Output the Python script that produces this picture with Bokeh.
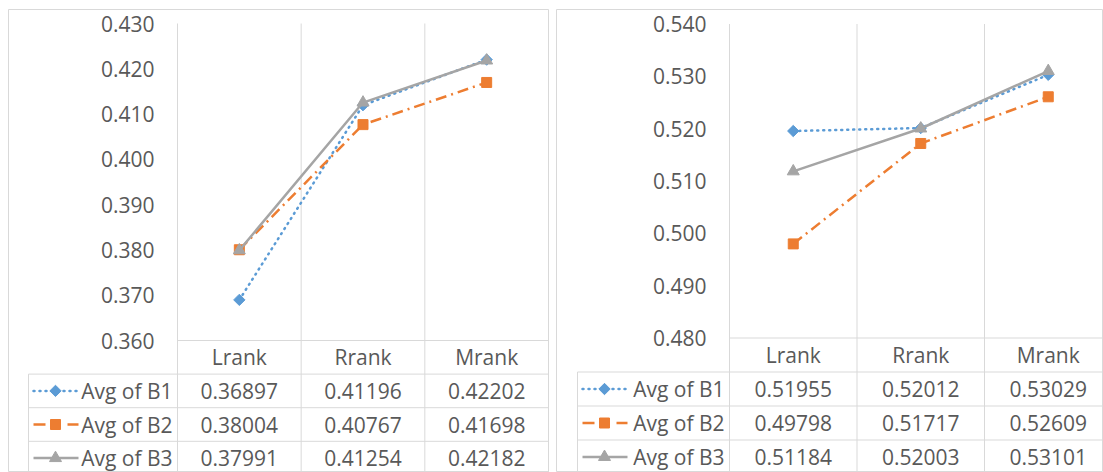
import math
from bokeh.plotting import figure
from bokeh.layouts import row
from bokeh.models import Range1d
from bokeh.embed import file_html
from bokeh.resources import INLINE
from bokeh.core.properties import value

# ---------------- data ----------------
categories = ["Lrank", "Rrank", "Mrank"]
series_names = ["Avg of B1", "Avg of B2", "Avg of B3"]

left_b1 = [0.36897, 0.41196, 0.42202]
left_b2 = [0.38004, 0.40767, 0.41698]
left_b3 = [0.37991, 0.41254, 0.42182]
left_ticks = [0.360, 0.370, 0.380, 0.390, 0.400, 0.410, 0.420, 0.430]

right_b1 = [0.51955, 0.52012, 0.53029]
right_b2 = [0.49798, 0.51717, 0.52609]
right_b3 = [0.51184, 0.52003, 0.53101]
right_ticks = [0.480, 0.490, 0.500, 0.510, 0.520, 0.530, 0.540]

# ---------------- styles ----------------
FONT = value("Open Sans")
FSIZE = value("21px")
TXT = "#595959"
GRID = "#D9D9D9"
STYLES = [
    dict(color="#5B9BD5", dash="1 5", cap="round", marker="square", size=8, angle=math.pi / 4,
         leg_dash="1 5"),
    dict(color="#ED7D31", dash="11 5 2 5", cap="butt", marker="square", size=10, angle=0,
         leg_dash="12 22"),
    dict(color="#A5A5A5", dash="solid", cap="butt", marker="triangle", size=12, angle=0,
         leg_dash="solid"),
]

FIG_H = 472
FRAME_TOP = 9


def build(series, ticks, fig_x, fig_w, frame_left, plot_left, plot_right, legend_left,
          y_top, y_bot, rh):
    ncat = len(categories)
    catw = (plot_right - plot_left) / ncat
    frame_right = fig_x + fig_w

    def xd(px):
        return (px - plot_left) / catw

    tmin, tmax = ticks[0], ticks[-1]
    upp = (tmax - tmin) / (y_bot - y_top)
    yr = Range1d(tmin - (FIG_H - y_bot) * upp, tmax + (y_top - FRAME_TOP) * upp)
    xr = Range1d(xd(frame_left), xd(frame_right))
    tbl = Range1d((FIG_H - y_bot) / rh, -(y_bot - FRAME_TOP) / rh)

    p = figure(width=fig_w, height=FIG_H, x_range=xr, y_range=yr,
               output_backend="svg", toolbar_location=None,
               x_axis_location=None, y_axis_location=None,
               min_border=0, min_border_top=FRAME_TOP,
               min_border_left=frame_left - fig_x)
    p.extra_y_ranges = {"tbl": tbl}
    p.xgrid.visible = False
    p.ygrid.visible = False
    p.outline_line_color = GRID
    p.outline_line_width = 1
    p.background_fill_color = "white"
    p.border_fill_color = "white"

    # vertical category lines (plot + table)
    gx = list(range(ncat + 1))
    p.segment(x0=gx, y0=[tmax] * len(gx), x1=gx, y1=[yr.start] * len(gx),
              line_color=GRID, line_width=1)
    lx = xd(legend_left)
    nrows = len(series)
    p.segment(x0=[lx], y0=[1], x1=[lx], y1=[tbl.start], y_range_name="tbl",
              line_color=GRID, line_width=1)
    hy = list(range(nrows + 1))
    p.segment(x0=[0] + [lx] * nrows, y0=hy, x1=[ncat] * len(hy), y1=hy,
              y_range_name="tbl", line_color=GRID, line_width=1)

    # y tick labels
    p.text(x=[0] * len(ticks), y=ticks, text=[f"{t:.3f}" for t in ticks],
           text_align="right", text_baseline="middle", x_offset=-23,
           text_font=FONT, text_font_size=FSIZE, text_color=TXT)

    # header
    xc = [i + 0.5 for i in range(ncat)]
    p.text(x=xc, y=[0.5] * ncat, text=categories, y_range_name="tbl",
           text_align="center", text_baseline="middle",
           text_font=FONT, text_font_size=FSIZE, text_color=TXT)

    for r, (name, vals) in enumerate(zip(series_names, series)):
        st = STYLES[r]
        ry = r + 1.5
        # table values
        p.text(x=xc, y=[ry] * ncat, text=[f"{v:.5f}" for v in vals], y_range_name="tbl",
               text_align="center", text_baseline="middle",
               text_font=FONT, text_font_size=FSIZE, text_color=TXT)
        # legend label
        p.text(x=[0], y=[ry], text=[name], y_range_name="tbl",
               text_align="right", text_baseline="middle", x_offset=-5,
               text_font=FONT, text_font_size=FSIZE, text_color=TXT)
        # legend sample
        p.line(x=[xd(legend_left + 5), xd(legend_left + 50)], y=[ry, ry], y_range_name="tbl",
               line_color=st["color"], line_width=2.5, line_dash=st["leg_dash"],
               line_cap=st["cap"])
        p.scatter(x=[xd(legend_left + 27)], y=[ry], y_range_name="tbl",
                  marker=st["marker"], size=st["size"], angle=st["angle"],
                  fill_color=st["color"], line_color=st["color"])
        # series
        p.line(x=xc, y=vals, line_color=st["color"], line_width=2.5,
               line_dash=st["dash"], line_cap=st["cap"])
        p.scatter(x=xc, y=vals, marker=st["marker"], size=st["size"], angle=st["angle"],
                  fill_color=st["color"], line_color=st["color"])
    return p


p_left = build([left_b1, left_b2, left_b3], left_ticks,
               fig_x=0, fig_w=549, frame_left=8, plot_left=177, plot_right=548,
               legend_left=28, y_top=23, y_bot=340, rh=33.6)
p_right = build([right_b1, right_b2, right_b3], right_ticks,
                fig_x=549, fig_w=554, frame_left=556, plot_left=729, plot_right=1111.5,
                legend_left=577, y_top=23.5, y_bot=337.5, rh=34.0)

layout = row(p_left, p_right, spacing=0)
open("out.html", "w").write(file_html(layout, INLINE))
